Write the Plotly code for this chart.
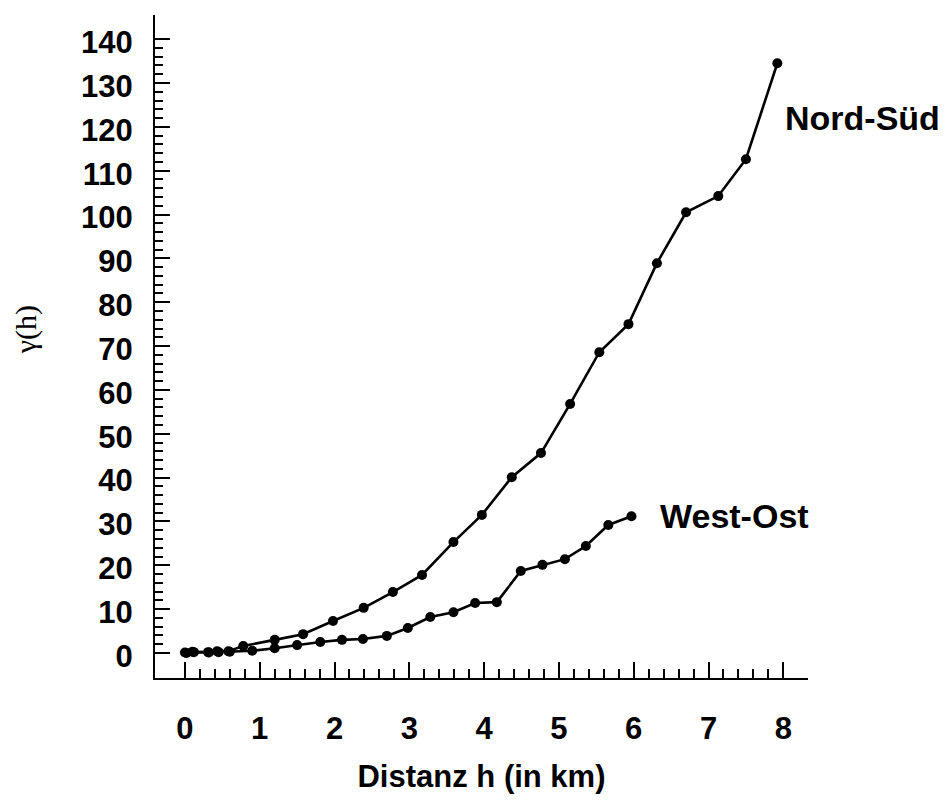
import plotly.graph_objects as go

# Data
ns_x = [0.00, 0.10, 0.31, 0.43, 0.58, 0.78, 1.20, 1.58, 1.98, 2.39, 2.78, 3.17, 3.59, 3.97,
        4.37, 4.76, 5.15, 5.54, 5.93, 6.31, 6.70, 7.13, 7.50, 7.92]
ns_y = [0.1, 0.3, 0.2, 0.4, 0.4, 1.6, 3.0, 4.3, 7.3, 10.3, 13.9, 17.8, 25.3, 31.5,
        40.1, 45.6, 56.8, 68.6, 75.0, 88.9, 100.5, 104.2, 112.6, 134.5]

wo_x = [0.02, 0.12, 0.32, 0.45, 0.60, 0.90, 1.20, 1.50, 1.81, 2.10, 2.38, 2.70, 2.98, 3.28,
        3.59, 3.88, 4.17, 4.49, 4.78, 5.08, 5.36, 5.66, 5.97]
wo_y = [0.0, 0.2, 0.1, 0.2, 0.3, 0.5, 1.1, 1.8, 2.5, 3.0, 3.2, 3.9, 5.7, 8.2,
        9.3, 11.4, 11.6, 18.7, 20.1, 21.4, 24.4, 29.2, 31.2]

x_ticks = [0, 1, 2, 3, 4, 5, 6, 7, 8]
x_minor = [round(i * 0.2, 1) for i in range(41) if i % 5 != 0]
y_ticks = list(range(0, 141, 10))
y_minor = [v for v in range(0, 141, 2) if v % 10 != 0]

series_labels = ["Nord-Süd", "West-Ost"]
x_title = "Distanz h (in km)"
y_title = "γ(h)"

BOLD = "Liberation Sans, Arial, sans-serif"

fig = go.Figure()
for xs, ys in [(ns_x, ns_y), (wo_x, wo_y)]:
    fig.add_trace(go.Scatter(
        x=xs, y=ys, mode="lines+markers",
        line=dict(color="black", width=2.6),
        marker=dict(color="black", size=10),
        showlegend=False,
    ))

fig.add_annotation(x=7.92, y=120, text=series_labels[0], showarrow=False,
                   xanchor="left", xshift=6, yshift=9,
                   font=dict(family=BOLD, size=34, color="black", weight="bold"))
fig.add_annotation(x=5.97, y=31.2, text=series_labels[1], showarrow=False,
                   xanchor="left", xshift=27, yshift=0,
                   font=dict(family=BOLD, size=34, color="black", weight="bold"))
fig.add_annotation(xref="paper", yref="paper", x=-0.197, y=0.525, text=y_title,
                   showarrow=False, textangle=-90, xanchor="center", yanchor="middle",
                   font=dict(family="Liberation Serif, Times New Roman, serif",
                             size=30, color="black"))

fig.update_layout(
    width=947, height=805,
    margin=dict(l=155, r=139, t=15, b=127),
    paper_bgcolor="white", plot_bgcolor="white",
    xaxis=dict(
        range=[-0.40, 8.33], showgrid=False, zeroline=False,
        showline=True, linecolor="black", linewidth=2,
        tickmode="array", tickvals=x_ticks, ticktext=[str(v) for v in x_ticks],
        ticks="inside", ticklen=16, tickwidth=2, tickcolor="black",
        ticklabelstandoff=22,
        tickfont=dict(family=BOLD, size=31, color="black", weight="bold"),
        minor=dict(tickvals=x_minor, ticks="inside", ticklen=9, tickwidth=1.5,
                   tickcolor="black", showgrid=False),
        title=dict(text=x_title, standoff=20,
                   font=dict(family=BOLD, size=31, color="black", weight="bold")),
    ),
    yaxis=dict(
        range=[-5.7, 145.5], showgrid=False, zeroline=False,
        showline=True, linecolor="black", linewidth=2,
        tickmode="array", tickvals=y_ticks, ticktext=[str(v) for v in y_ticks],
        ticks="inside", ticklen=15, tickwidth=2, tickcolor="black",
        ticklabelstandoff=14, ticklabelshift=3,
        tickfont=dict(family=BOLD, size=31, color="black", weight="bold"),
        minor=dict(tickvals=y_minor, ticks="inside", ticklen=8, tickwidth=1.5,
                   tickcolor="black", showgrid=False),
    ),
)

fig.write_html("out.html")
